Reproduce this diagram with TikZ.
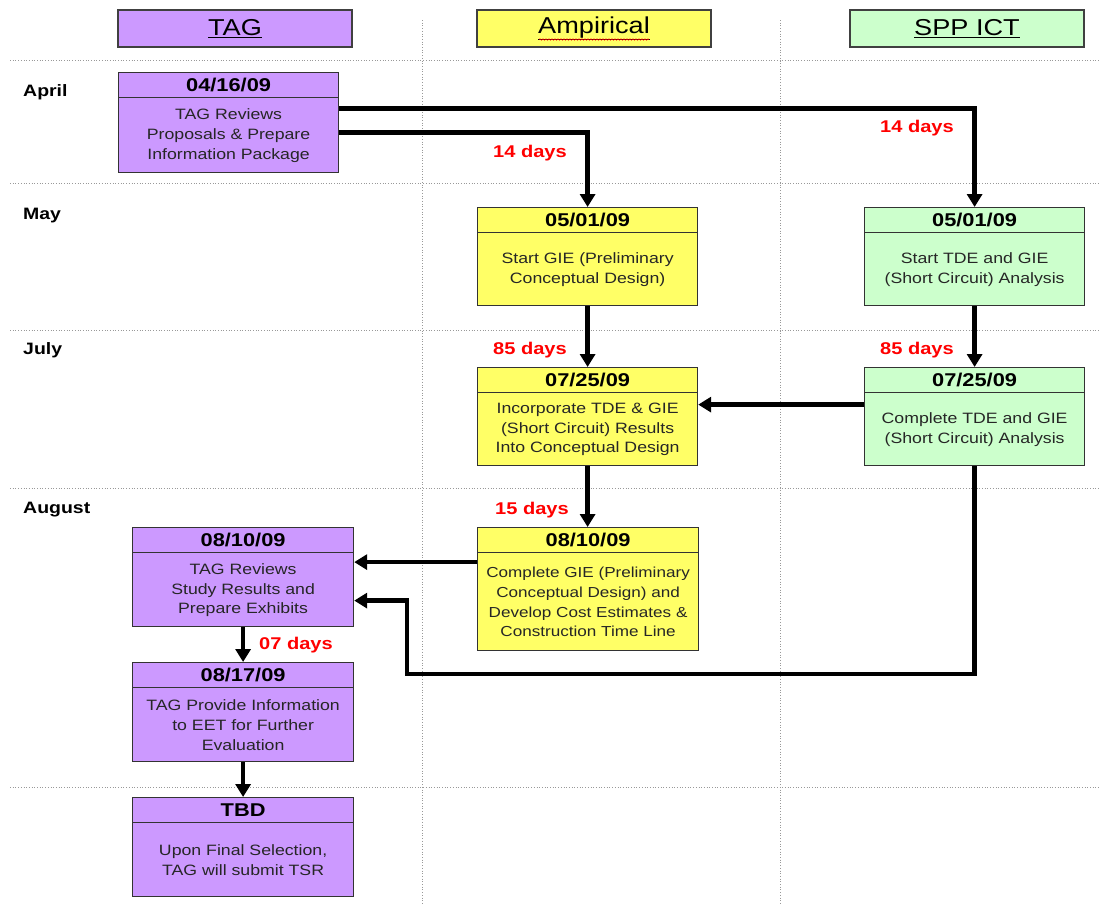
\documentclass[tikz,border=0pt]{standalone}
\usepackage{fontspec}
\usepackage{tikz}
\usetikzlibrary{arrows.meta}
\usetikzlibrary{calc}
\usetikzlibrary{decorations.pathmorphing}
\newfontfamily\chartfont[FakeStretch=1.18]{Liberation Sans}
\newcommand{\bodyfont}{\chartfont\fontsize{15}{19.6}\selectfont}
\newcommand{\datefont}{\chartfont\bfseries\fontsize{18.5}{20}\selectfont}
\newcommand{\hdrfont}{\chartfont\fontsize{23}{25}\selectfont}
\newcommand{\monthfont}{\chartfont\bfseries\fontsize{16.5}{18}\selectfont}
\newcommand{\daysfont}{\chartfont\bfseries\fontsize{17}{18}\selectfont}
\definecolor{tagc}{HTML}{CC99FF}
\definecolor{ampc}{HTML}{FFFF66}
\definecolor{sppc}{HTML}{CCFFCC}
\tikzset{
	hdrbox/.style={draw=black!75, line width=1.2pt, minimum width=234pt, minimum height=37pt, inner sep=0pt, font=\hdrfont},
	evbox/.style={draw=black!80, line width=1.2pt, minimum width=220pt, inner sep=0pt, anchor=north west},
	datebar/.style={draw=black!80, line width=1.2pt, minimum width=220pt, minimum height=25pt, inner sep=0pt, anchor=north, font=\datefont},
	evtext/.style={align=center, inner sep=0pt, text=black!85, font=\bodyfont},
	month/.style={anchor=west, inner sep=0pt, font=\monthfont},
	days/.style={inner sep=0pt, text=red, font=\daysfont},
	flow/.style={line width=4.5pt, -{Triangle[length=13pt,width=15pt]}},
	gridline/.style={dotted, black!40, line width=0.7pt}
}

\begin{document}
\begin{tikzpicture}[x=1pt, y=-1pt]
	\useasboundingbox (0,0) rectangle (1099,903);
	% the grid of months and columns
		\foreach \yy in {60,183,330,488,787}
			\draw[gridline] (10,\yy) -- (1099,\yy);
		\foreach \xx in {422,780}
			\draw[gridline] (\xx,20) -- (\xx,903);

	% column heads
		\node[hdrbox, fill=tagc] (htag) at (235,28.5) {\underline{TAG}};
		\node[hdrbox, fill=ampc] (hamp) at (594,28.5) {\underline{Ampirical}};
		\node[hdrbox, fill=sppc] (hspp) at (967,28.5) {\underline{SPP ICT}};
		\draw[red, line width=0.6pt, decorate, decoration={snake, amplitude=0.7pt, segment length=3pt}]
			($(hamp.center)+(-55,11)$) -- ($(hamp.center)+(55,11)$);

	% months
		\node[month] (apr) at (23,92) {April};
		\node[month] (may) at (23,216) {May};
		\node[month] (jul) at (23,350) {July};
		\node[month] (aug) at (23,510) {August};

	% the steps
		\node[evbox, fill=tagc, minimum height=100pt] (t1) at (118,72) {};
		\node[datebar, fill=tagc] (t1d) at (t1.north) {04/16/09};
		\node[evtext] (t1x) at ($(t1d.south)!0.5!(t1.south)$) {TAG Reviews\\Proposals \& Prepare\\Information Package};

		\node[evbox, fill=ampc, minimum height=98pt] (a1) at (477,207) {};
		\node[datebar, fill=ampc] (a1d) at (a1.north) {05/01/09};
		\node[evtext] (a1x) at ($(a1d.south)!0.5!(a1.south)$) {Start GIE (Preliminary\\Conceptual Design)};

		\node[evbox, fill=sppc, minimum height=98pt] (s1) at (864,207) {};
		\node[datebar, fill=sppc] (s1d) at (s1.north) {05/01/09};
		\node[evtext] (s1x) at ($(s1d.south)!0.5!(s1.south)$) {Start TDE and GIE\\(Short Circuit) Analysis};

		\node[evbox, fill=ampc, minimum height=98pt] (a2) at (477,367) {};
		\node[datebar, fill=ampc] (a2d) at (a2.north) {07/25/09};
		\node[evtext] (a2x) at ($(a2d.south)!0.5!(a2.south)$) {Incorporate TDE \& GIE\\(Short Circuit) Results\\Into Conceptual Design};

		\node[evbox, fill=sppc, minimum height=98pt] (s2) at (864,367) {};
		\node[datebar, fill=sppc] (s2d) at (s2.north) {07/25/09};
		\node[evtext] (s2x) at ($(s2d.south)!0.5!(s2.south)$) {Complete TDE and GIE\\(Short Circuit) Analysis};

		\node[evbox, fill=ampc, minimum height=123pt, minimum width=221pt] (a3) at (477,527) {};
		\node[datebar, fill=ampc, minimum width=221pt] (a3d) at (a3.north) {08/10/09};
		\node[evtext, font=\chartfont\fontsize{14.5}{19.6}\selectfont] (a3x) at ($(a3d.south)!0.5!(a3.south)$) {Complete GIE (Preliminary\\Conceptual Design) and\\Develop Cost Estimates \&\\Construction Time Line};

		\node[evbox, fill=tagc, minimum height=99pt, minimum width=221pt] (t2) at (132,527) {};
		\node[datebar, fill=tagc, minimum width=221pt] (t2d) at (t2.north) {08/10/09};
		\node[evtext] (t2x) at ($(t2d.south)!0.5!(t2.south)$) {TAG Reviews\\Study Results and\\Prepare Exhibits};

		\node[evbox, fill=tagc, minimum height=99pt, minimum width=221pt] (t3) at (132,662) {};
		\node[datebar, fill=tagc, minimum width=221pt] (t3d) at (t3.north) {08/17/09};
		\node[evtext] (t3x) at ($(t3d.south)!0.5!(t3.south)$) {TAG Provide Information\\to EET for Further\\Evaluation};

		\node[evbox, fill=tagc, minimum height=99pt, minimum width=221pt] (t4) at (132,797) {};
		\node[datebar, fill=tagc, minimum width=221pt] (t4d) at (t4.north) {TBD};
		\node[evtext] (t4x) at ($(t4d.south)!0.5!(t4.south)$) {Upon Final Selection,\\TAG will submit TSR};

	% arrows and durations
		\draw[flow] ([yshift=14pt]t1.east) -| (s1.north);
		\draw[flow] ([yshift=-10pt]t1.east) -| (a1.north);
		\draw[flow] (a1.south) -- (a2.north);
		\draw[flow] (s1.south) -- (s2.north);
		\draw[flow] ([yshift=12pt]s2.west) -- ([yshift=12pt]a2.east);
		\draw[flow] (a2.south) -- (a2.south |- a3.north);
		\draw[flow] ([yshift=27pt]a3.west) -- ([yshift=27pt]a3.west -| t2.east);
		\coordinate (loop) at (407,674);
		\draw[flow] (s2.south) |- (loop) |- ([yshift=-23.5pt]t2.east);
		\draw[flow] (t2.south) -- (t3.north);
		\draw[flow] (t3.south) -- (t4.north);

		\node[days] (d1) at (917,128) {14 days};
		\node[days] (d2) at (530,153) {14 days};
		\node[days] (d3) at (530,350) {85 days};
		\node[days] (d4) at (917,350) {85 days};
		\node[days] (d5) at (532,510) {15 days};
		\node[days] (d6) at (296,645) {07 days};
\end{tikzpicture}
\end{document}
